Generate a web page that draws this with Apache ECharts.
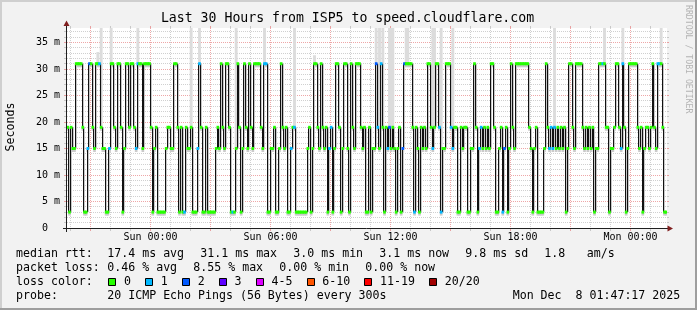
<!DOCTYPE html>
<html><head><meta charset="utf-8">
<script src="https://cdn.jsdelivr.net/npm/echarts@6/dist/echarts.min.js"></script>
<style>html,body{margin:0;padding:0;background:#f2f2f2}#c{width:697px;height:310px}</style>
</head><body><div id="c"></div><script>
// ---- data ----
// median RTT (ms) of each 300 s sample, 360 samples over 30 hours
const medianRtt = [
 19,3,19,15,15,31,31,31,31,19, 3,3,15,31,31,19,15,31,31,31,
 19,15,15,3,3,15,31,31,19,15, 31,31,19,3,15,31,31,19,31,31,
 19,15,31,31,31,15,31,31,31,31, 19,3,15,19,3,3,3,3,3,15,
 19,19,15,15,31,31,19,3,19,3, 3,19,15,15,19,3,3,3,15,31,
 19,3,3,19,3,3,3,3,3,15, 19,15,31,19,15,31,31,19,3,3,
 3,15,31,19,3,15,31,19,15,31, 19,15,31,31,31,31,19,15,31,31,
 3,3,15,15,19,3,3,15,31,19, 15,19,3,3,15,19,19,3,3,3,
 3,3,3,3,15,19,3,15,31,31, 19,15,31,19,15,19,3,15,19,3,
 15,31,31,19,3,15,31,31,15,3, 31,19,15,31,31,31,19,15,19,3,
 3,19,3,15,15,31,19,15,31,19, 3,19,15,19,15,19,15,3,15,19,
 3,15,31,31,31,31,31,19,3,19, 15,3,19,15,19,15,31,31,19,15,
 19,31,31,19,3,15,15,31,31,31, 19,15,19,19,3,3,19,15,19,19,
 3,3,15,15,31,19,3,15,19,15, 19,15,19,15,31,31,19,3,3,15,
 19,3,15,19,3,15,31,19,15,31, 31,31,31,31,31,31,31,19,15,3,
 15,19,3,3,3,3,15,31,19,15, 19,15,19,15,19,15,19,15,19,3,
 15,31,31,19,15,31,31,31,31,19, 15,19,15,19,15,19,3,15,15,31,
 31,31,31,19,19,3,15,15,19,31, 31,19,15,31,19,3,15,31,31,31,
 31,31,19,15,19,3,15,19,19,15, 19,31,19,15,31,31,31,19,3,3
];
// [sample, lost pings out of 20] for samples that lost pings (others lost 0)
const lossEvents = [[12,1],[13,2],[19,1],[25,1],[41,1],[42,1],[70,1],[78,1],[79,1],[99,1],
 [118,1],[119,1],[134,1],[136,1],[157,1],[158,1],[185,2],[186,1],[188,1],[192,1],[193,2],
 [201,2],[202,2],[208,1],[219,1],[223,1],[224,1],[230,1],[231,1],[247,1],[248,1],[261,1],
 [262,2],[289,1],[290,1],[291,1],[292,1],[321,1],[332,1],[333,1],[354,1],[355,1]];
// [sample, max ping RTT (ms)] where the smoke rises above the median
const smokeSpikes = [[18,33.2],[20,40],[26,40],[42,40],[74,40],[79,40],[101,40],[118,40],[136,40],
 [148,32.6],[185,40],[187,40],[189,40],[193,40],[194,40],[195,40],[203,40],[204,40],[219,40],
 [220,40],[224,40],[231,40],[292,40],[322,40],[333,40],[356,40]];

// axis: hours relative to Sun 00:00
const xStartHour = -4.175, spanHours = 30, sampleCount = 360;
const xMajorHours = [-3,0,3,6,9,12,15,18,21,24];
const xMinorHours = [-4,-2,-1,1,2,4,5,7,8,10,11,13,14,16,17,19,20,22,23,25];
const xLabelHours = [0,6,12,18,24];
const xLabelText = ['Sun 00:00','Sun 06:00','Sun 12:00','Sun 18:00','Mon 00:00'];
const yMax = 37.74;
const yMajor = [5,10,15,20,25,30,35];
const yMinor = [1,2,3,4,6,7,8,9,11,12,13,14,16,17,18,19,21,22,23,24,26,27,28,29,31,32,33,34,36,37];
const lossColors = ['#26ff00','#00b8ff','#0059ff','#5e00ff','#dd00ff','#ff5500','#ff0000','#a10000'];
const lossLabels = ['0','1','2','3','4-5','6-10','11-19','20/20'];
const titleText = 'Last 30 Hours from ISP5 to speed.cloudflare.com';
const rttStats = ['17.4 ms avg','31.1 ms max','3.0 ms min','3.1 ms now','9.8 ms sd','1.8','am/s'];
const lossStats = ['0.46 % avg','8.55 % max','0.00 % min','0.00 % now'];
const probeText = '20 ICMP Echo Pings (56 Bytes) every 300s';
const dateText = 'Mon Dec  8 01:47:17 2025';

// ---- layout ----
const MONO = '"DejaVu Sans Mono", monospace';
const LF = '11.6px ' + MONO;
const rttX = [107.3,200.3,293.3,379.3,465.3,544.3,586.7];
const lossX = [107.3,193.3,279.3,365.3];

function lossIndex(n){ if(n<=3) return n; if(n<=5) return 4; if(n<=10) return 5; if(n<=19) return 6; return 7; }
const lossCount = medianRtt.map(()=>0);
lossEvents.forEach(e=>{ lossCount[e[0]] = e[1]; });
const spikeHi = medianRtt.slice();
smokeSpikes.forEach(s=>{ spikeHi[s[0]] = s[1]; });

const smokeData = medianRtt.map((v,i)=>[i, v, spikeHi[i]]);
const stepData = [];
for (let i=0;i<medianRtt.length-1;i++) stepData.push([i+1, medianRtt[i], medianRtt[i+1]]);
const segData = medianRtt.map((v,i)=>[i, v, lossIndex(lossCount[i])]);
const gridData = [];
xMinorHours.forEach(h=>gridData.push([0,h]));
yMinor.forEach(v=>gridData.push([2,v]));
xMajorHours.forEach(h=>gridData.push([1,h]));
yMajor.forEach(v=>gridData.push([3,v]));

const GRID_C = 'rgba(143,143,143,0.42)', MGRID_C = 'rgba(222,79,79,0.5)';

const chart = echarts.init(document.getElementById('c'), null, {renderer:'canvas'});
const graphic = [];
// frame shades
graphic.push({type:'rect', shape:{x:0,y:0,width:697,height:2}, style:{fill:'#cfcfcf'}, silent:true});
graphic.push({type:'rect', shape:{x:0,y:0,width:2,height:310}, style:{fill:'#cfcfcf'}, silent:true});
graphic.push({type:'rect', shape:{x:0,y:308,width:697,height:2}, style:{fill:'#9e9e9e'}, silent:true});
graphic.push({type:'rect', shape:{x:695,y:0,width:2,height:310}, style:{fill:'#9e9e9e'}, silent:true});
// axes lines and arrows
graphic.push({type:'line', z:50, shape:{x1:63,y1:228.5,x2:670,y2:228.5}, style:{stroke:'#1f1f1f',lineWidth:1}});
graphic.push({type:'line', z:50, shape:{x1:66.5,y1:232,x2:66.5,y2:24}, style:{stroke:'#1f1f1f',lineWidth:1}});
graphic.push({type:'polygon', z:51, shape:{points:[[66.5,20.5],[63.5,26],[69.5,26]]}, style:{fill:'#801f1f'}});
graphic.push({type:'polygon', z:51, shape:{points:[[673,228.5],[667.5,225.5],[667.5,231.5]]}, style:{fill:'#801f1f'}});
// title, axis name, watermark
graphic.push({type:'text', x:347.5, y:19, style:{text:titleText, font:'13.2px '+MONO, fill:'#000', align:'center', verticalAlign:'middle', textAlign:'center', textVerticalAlign:'middle'}});
graphic.push({type:'text', x:11, y:127, rotation:Math.PI/2, style:{text:'Seconds', font:LF, fill:'#000', align:'center', verticalAlign:'middle', textAlign:'center', textVerticalAlign:'middle'}});
graphic.push({type:'text', x:688, y:5, rotation:-Math.PI/2, style:{text:'RRDTOOL / TOBI OETIKER', font:'8.2px '+MONO, fill:'#b4b4b4', align:'left', verticalAlign:'middle', textAlign:'left', textVerticalAlign:'middle'}});
function T(txt,x,y){ graphic.push({type:'text', x:x, y:y, style:{text:txt, font:LF, fill:'#000', align:'left', verticalAlign:'middle', textAlign:'left', textVerticalAlign:'middle'}}); }
T('median rtt:',16,254.3);
rttStats.forEach((s,k)=>T(s,rttX[k],254.3));
T('packet loss:',16,268.3);
lossStats.forEach((s,k)=>T(s,lossX[k],268.3));
T('loss color:',16,282.3);
let bx = 108.3;
lossLabels.forEach((lab,k)=>{
  graphic.push({type:'rect', shape:{x:Math.round(bx)+0.5,y:278.5,width:7,height:7}, style:{fill:lossColors[k], stroke:'#000', lineWidth:1}});
  T(lab, bx+15.7, 282.3);
  bx = bx + 15.7 + lab.length*6.97 + 14.2;
});
T('probe:',16,296.3);
T(probeText,107.3,296.3);
T(dateText,512.7,296.3);

chart.setOption({
  animation:false,
  backgroundColor:'#f2f2f2',
  grid:{left:67, top:28, width:600, height:200, show:true, backgroundColor:'#ffffff', borderWidth:0},
  xAxis:[
    {type:'value', min:xStartHour, max:xStartHour+spanHours, axisLine:{show:false}, axisTick:{show:false}, splitLine:{show:false},
     axisLabel:{customValues:xLabelHours, margin:4, fontFamily:MONO, fontSize:10, color:'#000',
       formatter:(v)=>{ const k = xLabelHours.findIndex(h=>Math.abs(h-v)<1e-6); return k>=0 ? xLabelText[k] : ''; }}},
    {type:'value', min:0, max:sampleCount, show:false}
  ],
  yAxis:[{type:'value', min:0, max:yMax, interval:5, axisLine:{show:false}, axisTick:{show:false}, splitLine:{show:false},
     axisLabel:{margin:7, fontFamily:MONO, fontSize:10, color:'#000',
       formatter:(v)=>{ if (Math.abs(v-Math.round(v/5)*5)>1e-6) return ''; return v===0 ? '0  ' : (v+' m'); }}}],
  graphic: graphic,
  series:[
    {type:'custom', name:'grid', xAxisIndex:0, yAxisIndex:0, z:1, silent:true, clip:false, data:gridData,
     renderItem:(params, api)=>{
       const kind = api.value(0), v = api.value(1), cs = params.coordSys;
       const col = (kind===1||kind===3) ? MGRID_C : GRID_C;
       if (kind<2){
         const x = Math.round(api.coord([v,0])[0]-0.5)+0.5;
         return {type:'group', children:[
           {type:'line', shape:{x1:x,y1:cs.y,x2:x,y2:cs.y+cs.height}, style:{stroke:col,lineWidth:1,lineDash:[1,1]}},
           {type:'line', shape:{x1:x,y1:cs.y+cs.height,x2:x,y2:cs.y+cs.height+3}, style:{stroke:col,lineWidth:1}},
           {type:'line', shape:{x1:x,y1:cs.y-2,x2:x,y2:cs.y}, style:{stroke:col,lineWidth:1}}
         ]};
       }
       const y = Math.round(api.coord([xStartHour,v])[1]-0.5)+0.5;
       return {type:'group', children:[
         {type:'line', shape:{x1:cs.x,y1:y,x2:cs.x+cs.width,y2:y}, style:{stroke:col,lineWidth:1,lineDash:[1,1]}},
         {type:'line', shape:{x1:cs.x-3,y1:y,x2:cs.x,y2:y}, style:{stroke:col,lineWidth:1}},
         {type:'line', shape:{x1:cs.x+cs.width,y1:y,x2:cs.x+cs.width+2,y2:y}, style:{stroke:col,lineWidth:1}}
       ]};
     }},
    {type:'custom', name:'smoke', xAxisIndex:1, yAxisIndex:0, z:2, silent:true, clip:true, data:smokeData,
     renderItem:(params, api)=>{
       const i=api.value(0), v=api.value(1), hi=api.value(2);
       const a=api.coord([i,v]), b=api.coord([i+1,v]);
       const ch=[];
       if (hi>v){ const t=api.coord([i,hi]); ch.push({type:'rect', shape:{x:a[0]-0.6,y:t[1],width:b[0]-a[0]+1.2,height:a[1]-t[1]}, style:{fill:'#dcdcdc'}}); }
       ch.push({type:'rect', shape:{x:a[0]-0.5,y:a[1],width:b[0]-a[0]+1,height:3.5}, style:{fill:'#cacaca'}});
       return {type:'group', children:ch};
     }},
    {type:'custom', name:'median steps', xAxisIndex:1, yAxisIndex:0, z:3, silent:true, clip:true, data:stepData,
     renderItem:(params, api)=>{
       const p=api.coord([api.value(0),api.value(1)]), q=api.coord([api.value(0),api.value(2)]);
       const x = Math.floor(p[0])+0.5;
       return {type:'group', children:[
         {type:'line', shape:{x1:x+1,y1:p[1],x2:x+1,y2:q[1]}, style:{stroke:'#c8c8c8',lineWidth:1}},
         {type:'line', shape:{x1:x,y1:p[1],x2:x,y2:q[1]}, style:{stroke:'#111111',lineWidth:1}}
       ]};
     }},
    {type:'custom', name:'median loss color', xAxisIndex:1, yAxisIndex:0, z:4, silent:true, clip:true, data:segData,
     renderItem:(params, api)=>{
       const i=api.value(0), v=api.value(1), c=api.value(2);
       const a=api.coord([i,v]), b=api.coord([i+1,v]);
       return {type:'rect', shape:{x:a[0]-0.5,y:a[1]-1.5,width:b[0]-a[0]+1,height:3}, style:{fill:lossColors[c]}};
     }}
  ]
});
</script></body></html>
